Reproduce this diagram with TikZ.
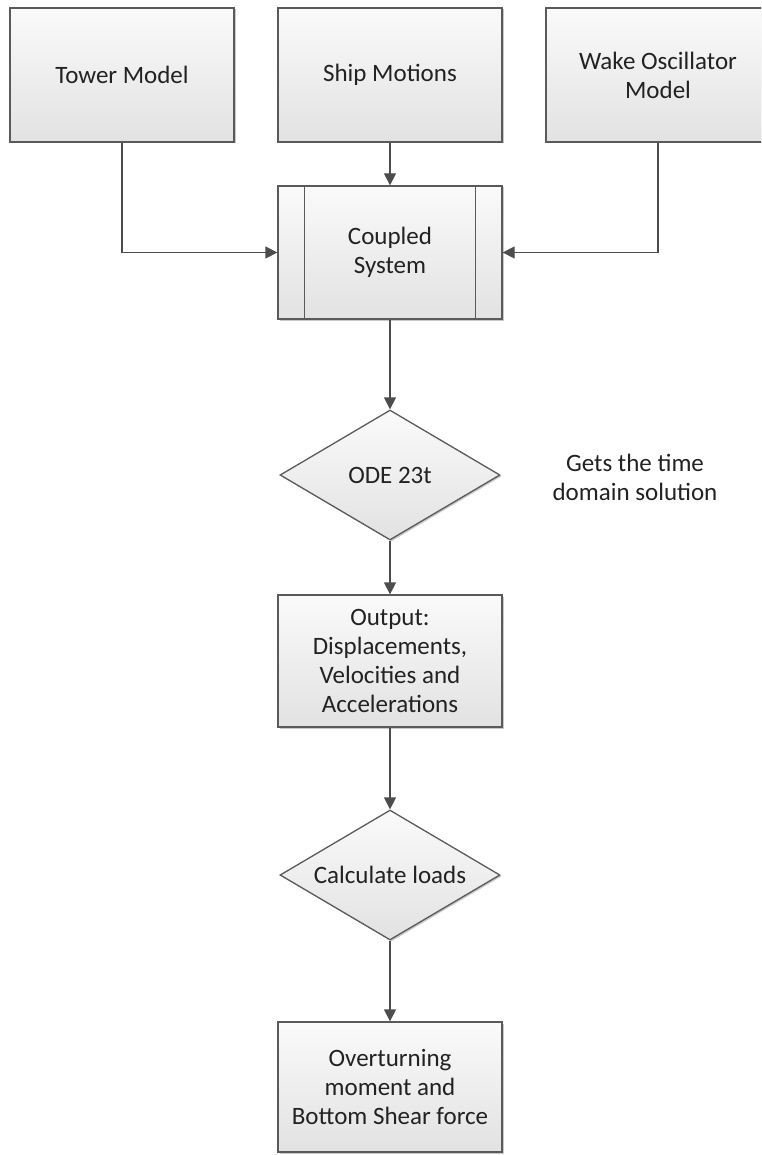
\documentclass[tikz,border=0pt]{standalone}
\usepackage{fontspec}
\setmainfont{Carlito}
\usetikzlibrary{arrows.meta,shapes.geometric,shadows}

\definecolor{edge}{HTML}{5A5A5A}
\definecolor{wire}{HTML}{4D4D4D}
\definecolor{boxtop}{HTML}{FAFAFA}
\definecolor{boxbot}{HTML}{E2E2E2}
\definecolor{ink}{HTML}{222222}

\begin{document}
\begin{tikzpicture}[x=1pt,y=-1pt,
  font=\fontsize{25}{29}\selectfont,
  every node/.style={text=ink},
  shade/.style={top color=boxtop, bottom color=boxbot,
    drop shadow={shadow xshift=1.5pt, shadow yshift=-1.5pt, opacity=0.3, fill=black!70}},
  box/.style={shade, draw=edge, line width=1.3pt, rectangle, align=center,
    inner sep=0pt, minimum width=224pt, minimum height=134pt},
  decision/.style={shade, draw=edge, line width=1.3pt, diamond, align=center,
    inner sep=-40pt, minimum width=220pt, minimum height=130pt},
  link/.style={draw=wire, line width=1.3pt, -{Triangle[length=12pt,width=12pt]}},
  note/.style={align=center, inner sep=0pt}
]
\useasboundingbox (0,0) rectangle (761,1155);
\clip (0,0) rectangle (761,1155);

% input blocks
\node[box] (tower) at (122,75) {Tower Model};
\node[box] (ship)  at (390,75) {Ship Motions};
\node[box] (wake)  at (658,75) {Wake Oscillator\\Model};

% coupled system (predefined process)
\node[box, minimum height=133pt] (coupled) at (390,252.5) {Coupled\\System};
\draw[edge, line width=1.3pt] ([xshift=27pt]coupled.north west) -- ([xshift=27pt]coupled.south west);
\draw[edge, line width=1.3pt] ([xshift=-27pt]coupled.north east) -- ([xshift=-27pt]coupled.south east);

% solver and processing chain
\node[decision] (ode) at (390,475) {ODE 23t};
\node[note] (gets) at (635,477) {Gets the time\\domain solution};
\node[box, minimum height=132pt] (output) at (390,661) {Output:\\Displacements,\\Velocities and\\Accelerations};
\node[decision] (calc) at (390,875) {Calculate loads};
\node[box, minimum height=130pt] (over) at (390,1087) {Overturning\\moment and\\Bottom Shear force};

% connectors
\draw[link] (tower.south) |- (coupled.west);
\draw[link] (ship.south) -- (coupled.north);
\draw[link] (wake.south) |- (coupled.east);
\draw[link] (coupled.south) -- (ode.north);
\draw[link] (ode.south) -- (output.north);
\draw[link] (output.south) -- (calc.north);
\draw[link] (calc.south) -- (over.north);
\end{tikzpicture}
\end{document}
